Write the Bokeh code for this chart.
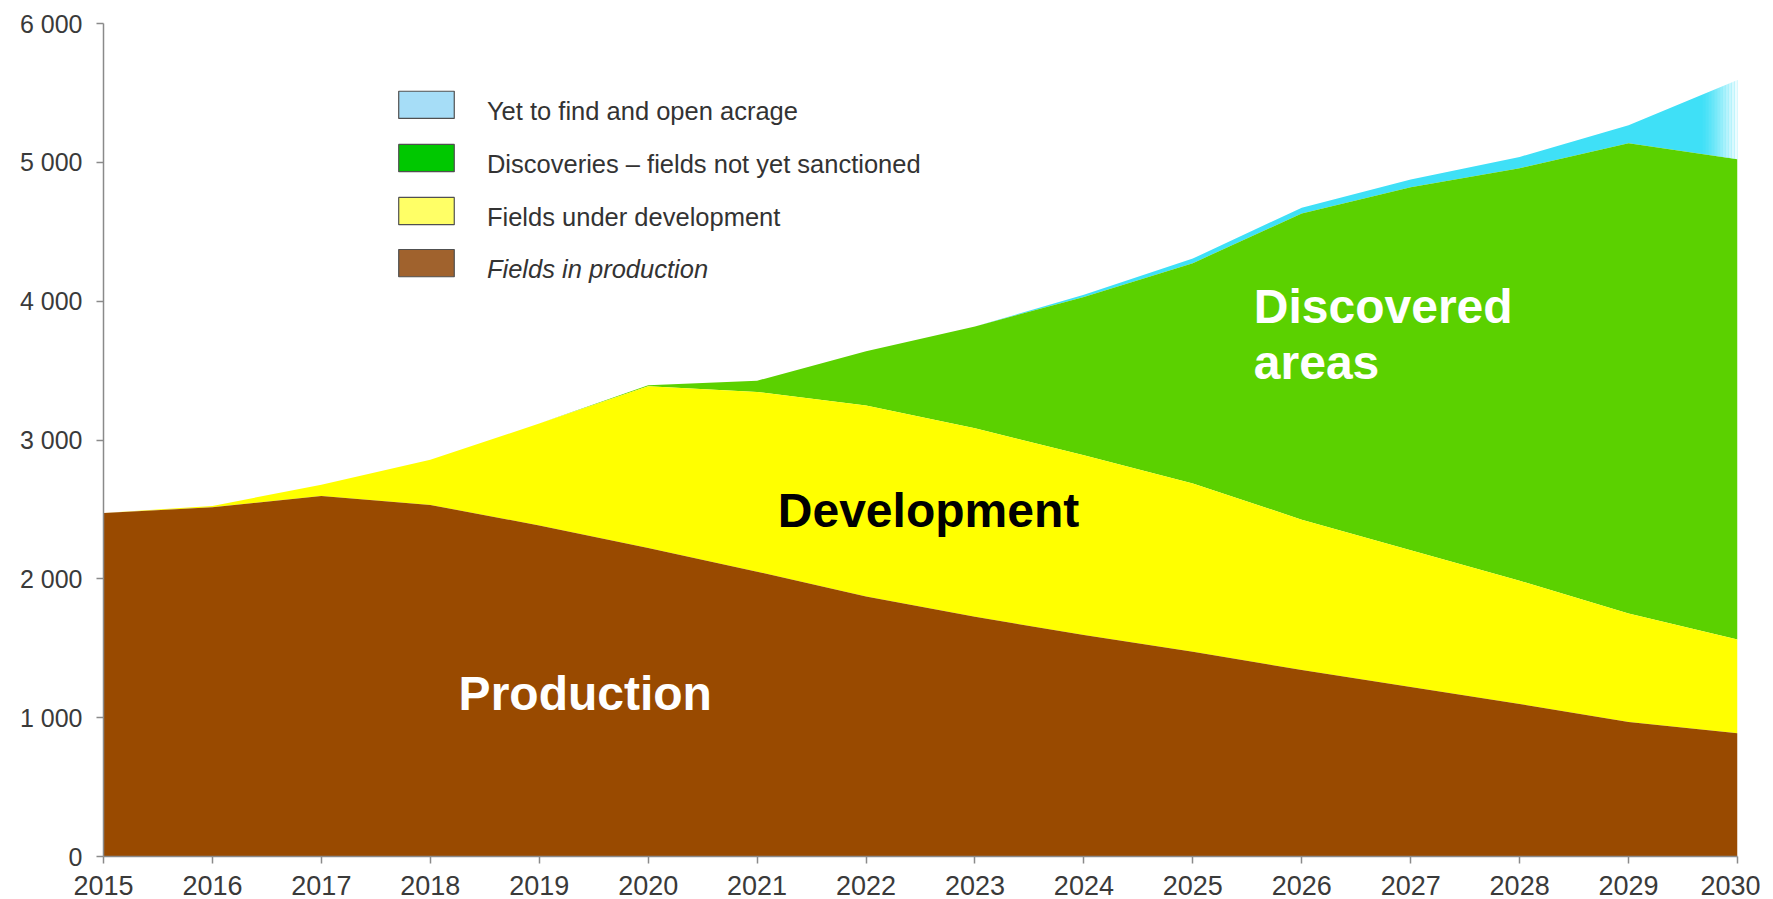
import numpy as np
from bokeh.plotting import figure
from bokeh.models import ColumnDataSource, Label, FixedTicker
from bokeh.embed import file_html
from bokeh.resources import INLINE

years = list(range(2015, 2031))
production = [2475, 2515, 2597, 2532, 2385, 2222, 2051, 1872, 1726, 1596, 1474, 1343, 1221, 1099, 969, 887]
development = [0, 10, 81, 325, 733, 1165, 1295, 1376, 1359, 1294, 1213, 1083, 985, 887, 781, 676]
discoveries = [0, 0, 0, 0, 0, 8, 81, 391, 733, 1140, 1587, 2206, 2614, 2972, 3387, 3460]
yet_to_find = [0, 0, 0, 0, 0, 0, 0, 0, 0, 16, 33, 41, 57, 81, 130, 570]

legend_labels = ["Yet to find and open acrage", "Discoveries \u2013 fields not yet sanctioned",
                 "Fields under development", "Fields in production"]
y_ticks = [0, 1000, 2000, 3000, 4000, 5000, 6000]

area_colors = ["#994A00", "#FFFF00", "#5BD100", "#3FE0F7"]
legend_colors = ["#A6DDF7", "#00C800", "#FFFF66", "#A0622D"]
FONT = "Liberation Sans"

p0 = np.zeros(len(years))
t1 = p0 + np.array(production)
t2 = t1 + np.array(development)
t3 = t2 + np.array(discoveries)
t4 = t3 + np.array(yet_to_find)
src = ColumnDataSource(dict(x=years, b=p0, t1=t1, t2=t2, t3=t3, t4=t4))

p = figure(width=1760, height=899, x_range=(2015, 2030), y_range=(0, 6000),
           output_backend="svg", toolbar_location=None,
           min_border_left=103, min_border_right=23, min_border_top=23, min_border_bottom=43)
p.outline_line_color = None
p.grid.visible = False
p.background_fill_color = "white"

p.varea(x="x", y1="t3", y2="t4", source=src, fill_color=area_colors[3])
p.varea(x="x", y1="t2", y2="t3", source=src, fill_color=area_colors[2])
p.varea(x="x", y1="t1", y2="t2", source=src, fill_color=area_colors[1])
p.varea(x="x", y1="b", y2="t1", source=src, fill_color=area_colors[0])

# fade of the top layer at the right edge
edges = np.linspace(2029.68, 2030.0, 13)
for i in range(len(edges) - 1):
    xs = [edges[i], edges[i + 1]]
    lo = np.interp(xs, years, t3)
    hi = np.interp(xs, years, t4) + 20
    p.varea(x=xs, y1=lo, y2=hi, fill_color="white", fill_alpha=((i + 1) / 13.0) ** 1.3)

# axes
for ax in (p.xaxis[0], p.yaxis[0]):
    ax.axis_line_color = "#8A8A8A"
    ax.axis_line_width = 1.5
    ax.major_tick_line_color = "#8A8A8A"
    ax.major_tick_line_width = 1.5
    ax.major_tick_out = 7
    ax.major_tick_in = 0
    ax.minor_tick_line_color = None
    ax.major_label_text_font = FONT
    ax.major_label_text_color = "#3A3A3A"
p.xaxis.major_label_text_font_size = "27px"
p.yaxis.major_label_text_font_size = "25px"
p.xaxis.ticker = FixedTicker(ticks=years)
p.yaxis.ticker = FixedTicker(ticks=y_ticks)
p.yaxis.major_label_overrides = {t: (f"{t // 1000} 000" if t >= 1000 else "0") for t in y_ticks}
p.yaxis.major_label_standoff = 14
p.xaxis.major_label_standoff = 12

# legend (manual)
leg_y = [5414, 5031, 4649, 4274]
p.rect(x=[2017.965] * 4, y=leg_y, width=0.51, height=196, fill_color=legend_colors,
       line_color="#505050", line_width=1.2)
for lbl, yy, i in zip(legend_labels, leg_y, range(4)):
    p.add_layout(Label(x=2018.52, y=yy - 45, text=lbl, text_font=FONT, text_font_size="25.5px",
                       text_color="#333333", text_baseline="middle",
                       text_font_style="italic" if i == 3 else "normal"))

# big area labels
for txt, xx, yy, col in [("Production", 2018.26, 1172, "white"),
                          ("Development", 2021.19, 2491, "black"),
                          ("Discovered", 2025.56, 3965, "white"),
                          ("areas", 2025.56, 3558, "white")]:
    p.add_layout(Label(x=xx, y=yy, text=txt, text_font=FONT, text_font_size="48px",
                       text_font_style="bold", text_color=col, text_baseline="middle"))

open("out.html", "w").write(file_html(p, INLINE))
